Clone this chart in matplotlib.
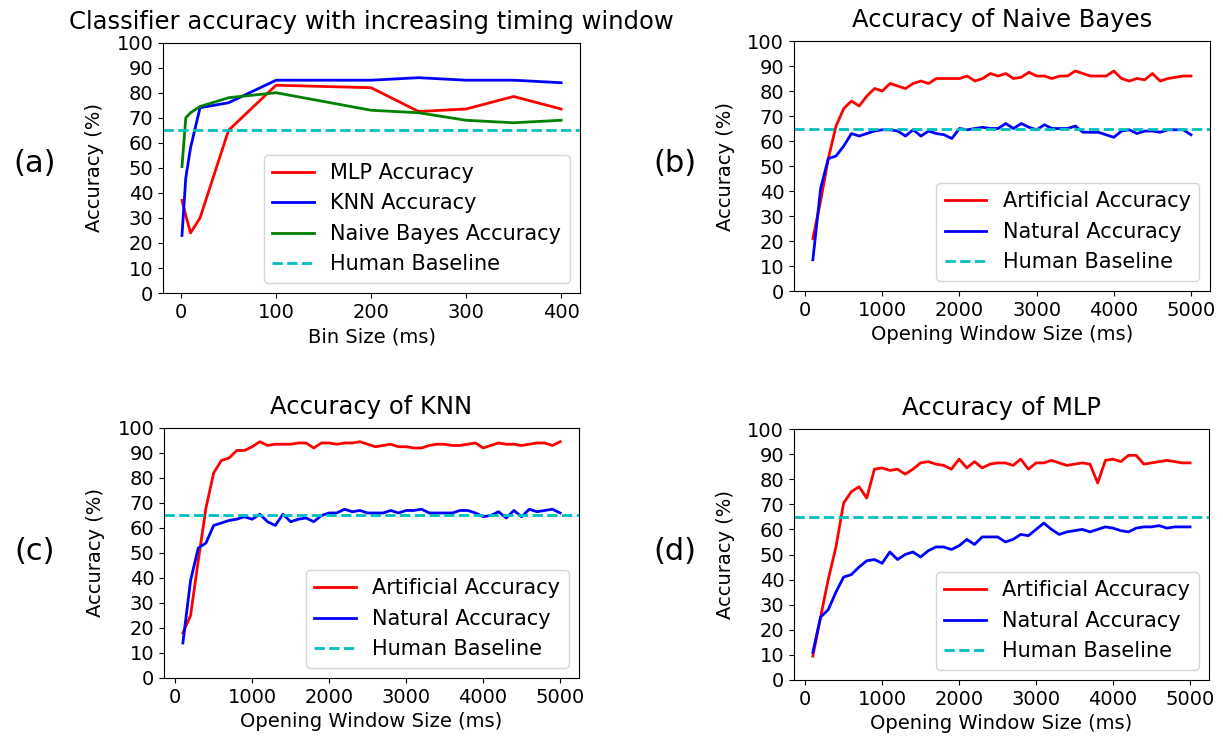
import matplotlib

matplotlib.use("Agg")
import matplotlib.pyplot as plt

HUMAN_BASELINE = 65

# (a) bin size sweep
bin_sizes = [1, 5, 10, 20, 50, 100, 200, 250, 300, 350, 400]
mlp_acc = [37, 31, 24, 30, 65, 83, 82, 72.5, 73.5, 78.5, 73.5]
knn_acc = [23, 46, 58, 74, 76, 85, 85, 86, 85, 85, 84]
nb_acc = [50.5, 70, 72, 74.5, 78, 80, 73, 72, 69, 68, 69]

# (b)-(d) opening window sweep, 100 ms .. 5000 ms
window_sizes = list(range(100, 5001, 100))

nb_artificial = [21, 36, 53, 66, 73, 76, 74, 78, 81, 80,
                 83, 82, 81, 83, 84, 83, 85, 85, 85, 85,
                 86, 84, 85, 87, 86, 87, 85, 85.5, 87.5, 86,
                 86, 85, 86, 86, 88, 87, 86, 86, 86, 88,
                 85, 84, 85, 84.5, 87, 84, 85, 85.5, 86, 86]
nb_natural = [12.5, 41, 53, 54, 58, 63, 62, 63, 64, 64.5,
              64.5, 64, 62, 64.5, 62, 64, 63, 62.5, 61, 65,
              64.5, 65, 65.5, 65, 65, 67, 65, 67, 65.5, 64.5,
              66.5, 65, 65, 65, 66, 63.5, 63.5, 63.5, 62.5, 61.5,
              64, 64.5, 63, 64, 64, 63.5, 64.5, 64.5, 64.5, 62.5]

knn_artificial = [18, 25, 47, 68, 82, 87, 88, 91, 91, 92.5,
                  94.5, 93, 93.5, 93.5, 93.5, 94, 94, 92, 94, 94,
                  93.5, 94, 94, 94.5, 93.5, 92.5, 93, 93.5, 92.5, 92.5,
                  92, 92, 93, 93.5, 93.5, 93, 93, 93.5, 94, 92,
                  93, 94, 93.5, 93.5, 93, 93.5, 94, 94, 93, 94.5]
knn_natural = [14, 39, 52, 54, 61, 62, 63, 63.5, 64.5, 63.5,
               65.5, 62.5, 61, 65.5, 62.5, 63.5, 64, 62.5, 65, 66,
               66, 67.5, 66.5, 67, 66, 66, 66, 67, 66, 67,
               67, 67.5, 66, 66, 66, 66, 67, 67, 66, 64.5,
               65, 66.5, 64, 67, 64.5, 67.5, 66.5, 67, 67.5, 66]

mlp_artificial = [9.5, 25, 40, 53, 70.5, 75, 77, 72.5, 84, 84.5,
                  83.5, 84, 82, 84, 86.5, 87, 86, 85.5, 84, 88,
                  84.5, 87, 84.5, 86, 86.5, 86.5, 85.5, 88, 84, 86.5,
                  86.5, 87.5, 86.5, 85.5, 86, 86.5, 86, 78.5, 87.5, 88,
                  87, 89.5, 89.5, 86, 86.5, 87, 87.5, 87, 86.5, 86.5]
mlp_natural = [11, 25, 28, 35, 41, 42, 45, 47.5, 48, 46.5,
               51, 48, 50, 51, 49, 51.5, 53, 53, 52, 53.5,
               56, 54, 57, 57, 57, 55, 56, 58, 57.5, 60,
               62.5, 60, 58, 59, 59.5, 60, 59, 60, 61, 60.5,
               59.5, 59, 60.5, 61, 61, 61.5, 60.5, 61, 61, 61]

plt.rcParams["font.size"] = 14

fig = plt.figure(figsize=(12.23, 7.43), dpi=100)

ax_a = fig.add_axes([0.1333, 0.6056, 0.3410, 0.3370])
ax_b = fig.add_axes([0.6492, 0.6083, 0.3401, 0.3365])
ax_c = fig.add_axes([0.1341, 0.0875, 0.3393, 0.3365])
ax_d = fig.add_axes([0.6492, 0.0848, 0.3393, 0.3378])


def finish(ax, title, xlabel):
    ax.axhline(HUMAN_BASELINE, color="c", linestyle="--", lw=2, label="Human Baseline")
    ax.set_ylim(0, 100)
    ax.set_yticks(range(0, 101, 10))
    ax.set_ylabel("Accuracy (%)", labelpad=9)
    ax.set_xlabel(xlabel)
    ax.set_title(title, fontsize=17.5, pad=10)
    ax.legend(loc="lower right", fontsize=15)


# Bin size comparison
ax_a.plot(bin_sizes, mlp_acc, color="r", lw=2, label="MLP Accuracy")
ax_a.plot(bin_sizes, knn_acc, color="b", lw=2, label="KNN Accuracy")
ax_a.plot(bin_sizes, nb_acc, color="g", lw=2, label="Naive Bayes Accuracy")
finish(ax_a, "Classifier accuracy with increasing timing window", "Bin Size (ms)")
ax_a.set_xticks([0, 100, 200, 300, 400])

# Per-classifier window sweeps
for ax, art, nat, name in [
    (ax_b, nb_artificial, nb_natural, "Naive Bayes"),
    (ax_c, knn_artificial, knn_natural, "KNN"),
    (ax_d, mlp_artificial, mlp_natural, "MLP"),
]:
    ax.plot(window_sizes, art, color="r", lw=2, label="Artificial Accuracy")
    ax.plot(window_sizes, nat, color="b", lw=2, label="Natural Accuracy")
    finish(ax, f"Accuracy of {name}", "Opening Window Size (ms)")
    ax.set_xticks([0, 1000, 2000, 3000, 4000, 5000])

# panel letters
for label, x, y in [("(a)", 0.028, 0.78), ("(b)", 0.552, 0.78),
                    ("(c)", 0.028, 0.258), ("(d)", 0.552, 0.258)]:
    fig.text(x, y, label, fontsize=22, va="center", ha="center")

fig.savefig("out.png", dpi=100)
plt.close()
